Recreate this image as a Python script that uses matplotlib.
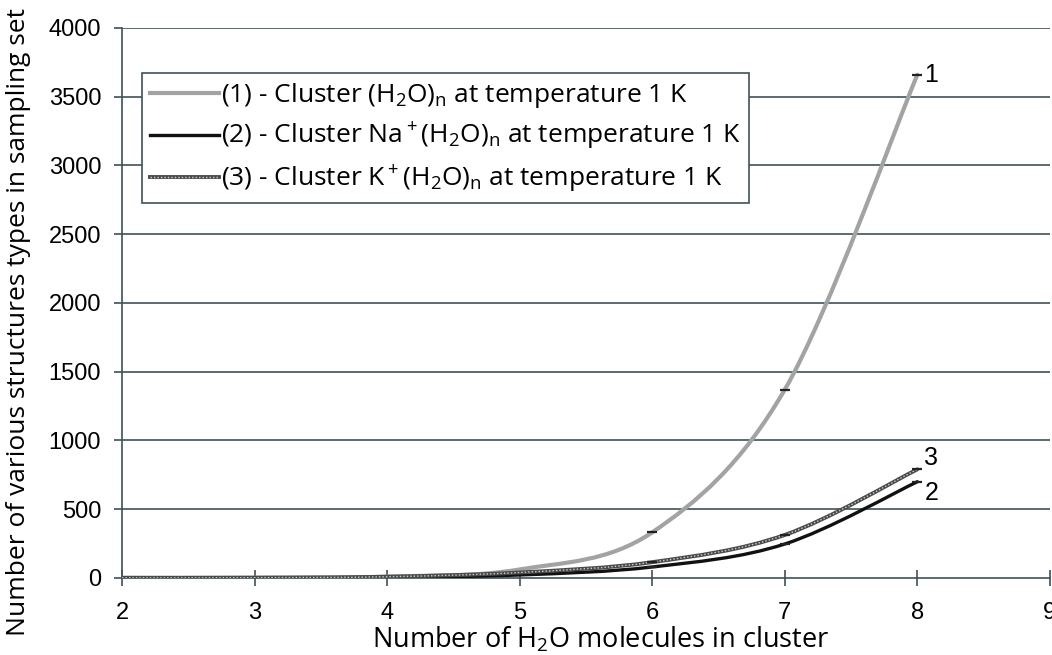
import matplotlib.pyplot as plt
import numpy as np
from matplotlib.path import Path
from matplotlib.patches import PathPatch
from matplotlib.lines import Line2D
from matplotlib.legend_handler import HandlerTuple

plt.rcParams['font.family'] = ['Open Sans', 'DejaVu Sans']
plt.rcParams['mathtext.default'] = 'regular'

n_molecules = [2, 3, 4, 5, 6, 7, 8]
cluster_water = [1, 2, 10, 62, 332, 1370, 3660]
cluster_na = [1, 1, 5, 22, 80, 247, 700]
cluster_k = [1, 2, 9, 40, 115, 313, 790]

series_names = [
    r"(1) - Cluster (H$_2$O)$_n$ at temperature 1 K",
    r"(2) - Cluster Na$^+$(H$_2$O)$_n$ at temperature 1 K",
    r"(3) - Cluster K$^+$(H$_2$O)$_n$ at temperature 1 K",
]
end_labels = ["1", "2", "3"]
y_ticks = [0, 500, 1000, 1500, 2000, 2500, 3000, 3500, 4000]
x_ticks = [2, 3, 4, 5, 6, 7, 8, 9]


def smooth_path(xs, ys):
    # Catmull-Rom spline through the points, as cubic Bezier segments
    pts = np.column_stack([xs, ys]).astype(float)
    verts = [pts[0]]
    codes = [Path.MOVETO]
    for i in range(len(pts) - 1):
        p0 = pts[max(i - 1, 0)]
        p1 = pts[i]
        p2 = pts[i + 1]
        p3 = pts[min(i + 2, len(pts) - 1)]
        verts += [p1 + (p2 - p0) / 6, p2 - (p3 - p1) / 6, p2]
        codes += [Path.CURVE4] * 3
    return Path(verts, codes)


fig = plt.figure(figsize=(10.52, 6.55), dpi=100)
ax = fig.add_axes([0.116, 0.1176, 0.882, 0.8397])

grid_color = '#3f5258'
for y in y_ticks[1:]:
    ax.axhline(y, color=grid_color, lw=1.2, zorder=1)

styles = [
    dict(color='#a3a3a3', lw=3.0),
    dict(color='#111111', lw=2.4),
    dict(color='#4a4a4a', lw=2.8),
]
dots = dict(color='#cfcfcf', lw=1.0, linestyle=(0, (1, 1.5)))
all_series = [cluster_water, cluster_na, cluster_k]
for vals, st in zip(all_series, styles):
    ax.add_patch(PathPatch(smooth_path(n_molecules, vals), fill=False,
                           capstyle='round', zorder=3, **st))
# dotted texture on series 3
ax.add_patch(PathPatch(smooth_path(n_molecules, cluster_k), fill=False,
                       zorder=4, **dots))

for vals in all_series:
    ax.plot(n_molecules[4:], vals[4:], linestyle='none', marker='_',
            markersize=7, mew=1.6, color='#222222', zorder=5)

for lab, vals, dy in zip(end_labels, all_series, [0, -8, 8]):
    ax.annotate(lab, (n_molecules[-1], vals[-1]), xytext=(5, dy),
                textcoords='offset points', va='center', ha='left',
                fontsize=18, family='Liberation Sans')

ax.set_xlim(2, 9)
ax.set_ylim(0, 4000)
ax.set_xticks(x_ticks)
ax.set_yticks(y_ticks)
ax.tick_params(axis='both', labelsize=17, color=grid_color, width=1.2,
               length=6)
ax.tick_params(axis='x', direction='inout', length=12, pad=11)
ax.tick_params(axis='y', direction='out', pad=9)
for lbl in ax.get_xticklabels() + ax.get_yticklabels():
    lbl.set_family('Liberation Sans')
for side in ['top', 'right']:
    ax.spines[side].set_visible(False)
for side in ['left', 'bottom']:
    ax.spines[side].set_color(grid_color)
    ax.spines[side].set_linewidth(1.2)

ax.set_xlabel(r"Number of H$_2$O molecules in cluster", fontsize=19.5)
ax.xaxis.set_label_coords(0.516, -0.113, transform=ax.transAxes)
ax.xaxis.label.set_va('center')
ax.set_ylabel("Number of various structures types in sampling set",
              fontsize=19)
ax.yaxis.set_label_coords(-0.112, 0.465, transform=ax.transAxes)
ax.yaxis.label.set_va('center')

handles = [
    Line2D([], [], **styles[0]),
    Line2D([], [], **styles[1]),
    (Line2D([], [], **styles[2]), Line2D([], [], **dots)),
]
leg = ax.legend(handles, series_names, loc='upper left',
                bbox_to_anchor=(0.0216, 0.918), fontsize=19,
                handler_map={tuple: HandlerTuple(ndivide=1)},
                fancybox=False, framealpha=1, edgecolor=grid_color,
                handlelength=2.6, handletextpad=0.1, borderpad=0.3,
                labelspacing=0.42, borderaxespad=0)
leg.get_frame().set_linewidth(1.2)
leg.set_zorder(6)

fig.savefig('out.png', dpi=100)
